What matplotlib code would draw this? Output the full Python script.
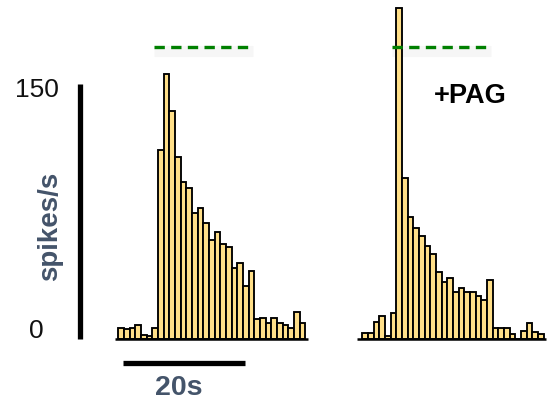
import matplotlib

matplotlib.use("Agg")
import matplotlib.pyplot as plt

# spikes/s per bin
control_rate = [6.5, 5.9, 6.5, 8.0, 2.4, 1.6, 6.5, 111, 156, 134, 107, 92.5, 89, 74, 77,
                68, 58, 63, 56, 54, 42, 44.5, 31, 40, 12, 12.5, 9.2, 12.5, 9.2, 8, 6.5, 16, 9.2]
pag_rate = [3.3, 3.3, 10.2, 13.7, 2.0, 15.3, 195, 94.7, 71.6, 65.5, 60.8, 54.9, 50, 39.6,
            33.7, 36, 27.8, 30.2, 27.8, 27.8, 25.5, 22.9, 34.7, 6.3, 6.3, 6.3, 2.9, 0,
            4.7, 9.2, 3.9, 2.9]
bin_s = 0.927
stim_control = (5.84, 21.98)
stim_pag = (4.81, 21.0)
stim_level = 172
scale_rate = 150
scale_time = 20

BAR_FILL = "#FFDF88"
SLATE = "#44546A"
GREEN = "#008000"

W, H = 547, 406
plt.rcParams["font.family"] = ["Liberation Sans", "DejaVu Sans"]
fig = plt.figure(figsize=(W / 100, H / 100), dpi=100)


def px_axes(x0, x1):
    # axes spanning pixel columns x0..x1, baseline at pixel row 340
    return fig.add_axes([x0 / W, 66 / H, (x1 - x0) / W, 340 / H])


def draw_panel(ax, rates, stim, base_span):
    xs = [i * bin_s for i in range(len(rates))]
    ax.bar(xs, rates, width=bin_s, align="edge", color=BAR_FILL,
           edgecolor="black", linewidth=1.35, zorder=2)
    ax.plot(base_span, [0, 0], color="black", lw=1.8, solid_capstyle="butt",
            zorder=3, clip_on=False)
    # faint shadow under the stimulus line
    ax.plot(stim, [stim_level - 2.4] * 2, color="#888888", alpha=0.07, lw=8,
            solid_capstyle="butt", zorder=1)
    ax.plot(stim, [stim_level] * 2, color=GREEN, lw=2.4, dashes=(3.1, 1.9),
            dash_capstyle="butt", zorder=4)
    ax.set_ylim(0, 200)
    ax.axis("off")


ax_l = px_axes(100, 320)
ax_l.set_xlim(-2.993, 32.98)
draw_panel(ax_l, control_rate, stim_control, [-0.54, 31.0])

ax_r = px_axes(344, 547)
ax_r.set_xlim(-2.993, 30.2)
draw_panel(ax_r, pag_rate, stim_pag, [-0.82, 30.0])

# scale bars
ax_l.plot([-6.27, -6.27], [0, scale_rate], color="black", lw=3.8,
          solid_capstyle="butt", clip_on=False)
ax_l.plot([0.72, 0.72 + scale_time], [-14.4, -14.4], color="black", lw=3.8,
          solid_capstyle="butt", clip_on=False)


def fx(x):
    return x / W


def fy(y):
    return 1 - y / H


fig.text(fx(36.7), fy(96.7), "150", fontsize=19, ha="center", va="baseline", color="#111111")
fig.text(fx(36.3), fy(338.3), "0", fontsize=19, ha="center", va="baseline", color="#111111")
fig.text(fx(50), fy(226), "spikes/s", fontsize=20, fontweight="bold", color=SLATE,
         rotation=90, ha="center", va="center")
fig.text(fx(178.3), fy(395), "20s", fontsize=20.5, fontweight="bold", color=SLATE,
         ha="center", va="baseline")
fig.text(fx(470), fy(103.3), "+PAG", fontsize=19.5, fontweight="bold", color="black",
         ha="center", va="baseline")

fig.savefig("out.png", dpi=100)
